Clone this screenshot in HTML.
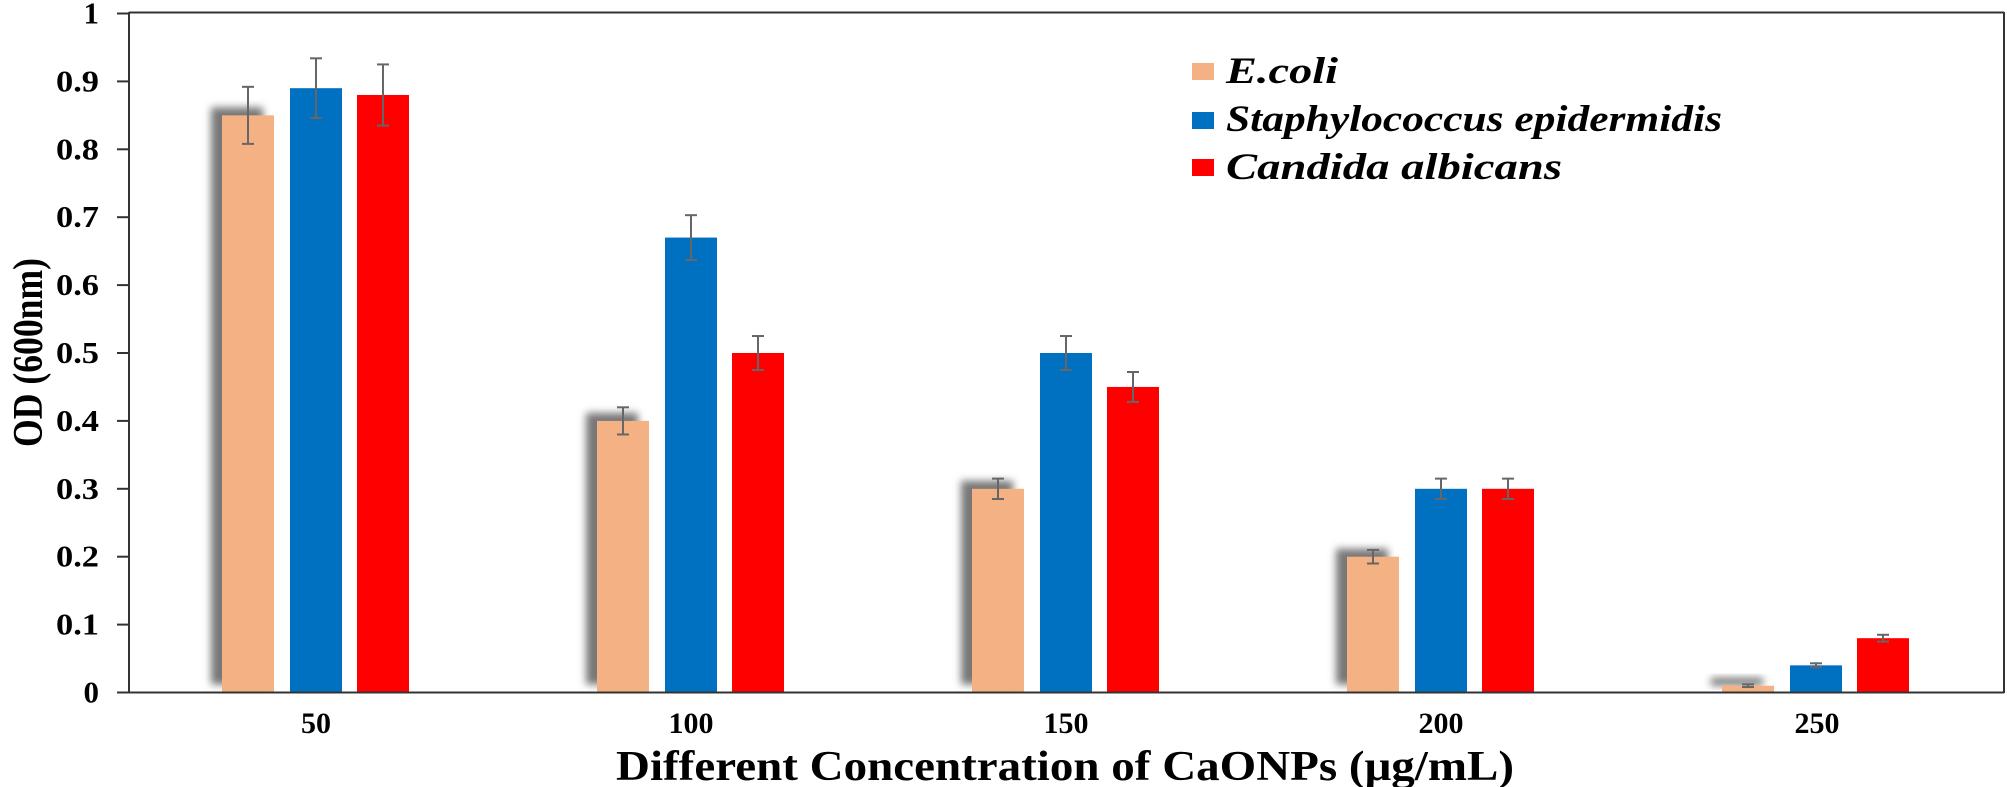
<!DOCTYPE html>
<html><head><style>html,body{margin:0;padding:0;background:#fff}svg{display:block}</style></head><body>
<svg width="2007" height="787" viewBox="0 0 2007 787" xmlns="http://www.w3.org/2000/svg" font-family="Liberation Serif, serif" font-weight="bold">
<defs><filter id="b" x="-50%" y="-50%" width="200%" height="200%"><feGaussianBlur stdDeviation="4"/></filter></defs>
<rect width="2007" height="787" fill="#fff"/>
<g id="bars"></g>
<g stroke="#333" stroke-width="2" fill="none">
<line x1="129" y1="12.5" x2="2004" y2="12.5"/>
<line x1="129" y1="12" x2="129" y2="693"/>
<line x1="129" y1="692.5" x2="2004" y2="692.5"/>
<line x1="2004" y1="12" x2="2004" y2="693"/>
</g>
<g id="ticks" stroke="#333" stroke-width="2"></g>
<g id="ylab" font-size="31" text-anchor="end"></g>
<g font-size="30" text-anchor="middle">
<text x="316" y="733">50</text><text x="691" y="733">100</text><text x="1066" y="733">150</text><text x="1441" y="733">200</text><text x="1817" y="733">250</text>
</g>
<text x="616" y="780" font-size="42" textLength="898" lengthAdjust="spacingAndGlyphs">Different Concentration  of CaONPs (μg/mL)</text>
<text transform="translate(42,447) rotate(-90)" font-size="42" textLength="189" lengthAdjust="spacingAndGlyphs">OD (600nm)</text>
<g font-style="italic" font-size="37">
<rect x="1192" y="63" width="22" height="17" fill="#F4B183"/>
<rect x="1192" y="112" width="22" height="17" fill="#0070C0"/>
<rect x="1192" y="159" width="22" height="17" fill="#FF0000"/>
<text x="1226" y="83" textLength="112" lengthAdjust="spacingAndGlyphs">E.coli</text>
<text x="1226" y="131" textLength="496" lengthAdjust="spacingAndGlyphs">Staphylococcus epidermidis</text>
<text x="1226" y="179" textLength="336" lengthAdjust="spacingAndGlyphs">Candida albicans</text>
</g>
<script>
const ns="http://www.w3.org/2000/svg";
const y0=692.5,k=679;
const data=[[[.85,.042],[.89,.044],[.88,.045]],[[.4,.02],[.67,.033],[.5,.025]],[[.3,.015],[.5,.025],[.45,.022]],[[.2,.01],[.3,.015],[.3,.015]],[[.01,.002],[.04,.003],[.08,.005]]];
const cols=["#F4B183","#0070C0","#FF0000"],off=[0,68,135];
const g=document.getElementById("bars");
function el(t,a,p){const e=document.createElementNS(ns,t);for(const x in a)e.setAttribute(x,a[x]);(p||g).appendChild(e);return e;}
data.forEach((grp,i)=>{grp.forEach((d,j)=>{
 const x=222+375*i+off[j],h=d[0]*k,y=y0-h;
 if(j==0)el("rect",{x:x-11,y:y-8,width:52,height:Math.max(h,8),fill:"#777",filter:"url(#b)"});
 el("rect",{x:x,y:y,width:52,height:h,fill:cols[j]});
 const c=x+26,e=d[1]*k;
 el("line",{x1:c,y1:y-e,x2:c,y2:y+e,stroke:"#666","stroke-width":2});
 el("line",{x1:c-6,y1:y-e,x2:c+6,y2:y-e,stroke:"#666","stroke-width":2});
 el("line",{x1:c-6,y1:y+e,x2:c+6,y2:y+e,stroke:"#666","stroke-width":2});
});});
const tk=document.getElementById("ticks"),yl=document.getElementById("ylab");
for(let i=0;i<=10;i++){const y=y0-i*67.9;
 el("line",{x1:117,y1:y,x2:129,y2:y},tk);
 const lab=i==0?"0":i==10?"1":"0."+i;
 const t=el("text",{x:99,y:y+10},yl);t.textContent=lab;
 if(lab.length==3){t.setAttribute("textLength","43");t.setAttribute("lengthAdjust","spacingAndGlyphs");}
}
</script>
</svg>
</body></html>
